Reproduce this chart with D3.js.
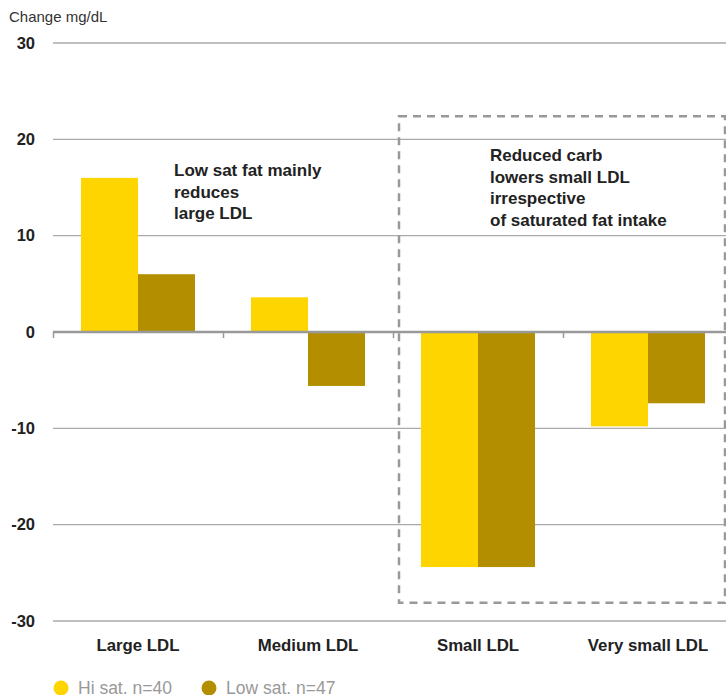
<!DOCTYPE html>
<html>
<head>
<meta charset="utf-8">
<script src="https://cdn.jsdelivr.net/npm/d3@7"></script>
<style>
  body { margin: 0; background: #fff; }
  svg { display: block; font-family: "Liberation Sans", Arial, sans-serif; }
</style>
</head>
<body>
<svg width="726" height="695"></svg>
<script>
var categories = ["Large LDL", "Medium LDL", "Small LDL", "Very small LDL"];
var seriesNames = ["Hi sat. n=40", "Low sat. n=47"];
var hiSat = [16.0, 3.6, -24.4, -9.8];
var lowSat = [6.0, -5.6, -24.4, -7.4];
var yTicks = [30, 20, 10, 0, -10, -20, -30];
var colors = ["#ffd500", "#b38f00"];

var svg = d3.select("svg");

var x = d3.scaleBand()
  .domain(categories)
  .range([53, 733]);

var xInner = d3.scaleBand()
  .domain(seriesNames)
  .range([28, 142]);

var y = d3.scaleLinear()
  .domain([-30, 30])
  .range([621, 43]);

// grid lines
svg.append("g")
  .selectAll("line")
  .data(yTicks.filter(function(d) { return d != 0; }))
  .enter().append("line")
    .attr("x1", 53)
    .attr("x2", 726)
    .attr("y1", function(d) { return y(d); })
    .attr("y2", function(d) { return y(d); })
    .attr("stroke", "#aaa")
    .attr("stroke-width", 1.3);

// y labels
svg.append("g")
  .selectAll("text")
  .data(yTicks)
  .enter().append("text")
    .attr("x", 35)
    .attr("y", function(d) { return y(d); })
    .attr("dy", "0.35em")
    .attr("text-anchor", "end")
    .attr("font-size", 16.5)
    .attr("font-weight", "bold")
    .attr("fill", "#222")
    .text(function(d) { return d; });

svg.append("text")
  .attr("x", 9)
  .attr("y", 22)
  .attr("font-size", 15)
  .attr("fill", "#333")
  .text("Change mg/dL");

// bars
var rows = categories.map(function(c, i) {
  return { cat: c, vals: [hiSat[i], lowSat[i]] };
});

var grp = svg.append("g")
  .selectAll("g")
  .data(rows)
  .enter().append("g")
    .attr("transform", function(d) { return "translate(" + x(d.cat) + ",0)"; });

grp.selectAll("rect")
  .data(function(d) { return d.vals.map(function(v, j) { return { name: seriesNames[j], v: v, j: j }; }); })
  .enter().append("rect")
    .attr("x", function(d) { return xInner(d.name); })
    .attr("width", xInner.bandwidth())
    .attr("y", function(d) { return y(Math.max(0, d.v)); })
    .attr("height", function(d) { return Math.abs(y(d.v) - y(0)); })
    .attr("fill", function(d) { return colors[d.j]; });

// zero axis with ticks
svg.append("line")
  .attr("x1", 53)
  .attr("x2", 726)
  .attr("y1", y(0))
  .attr("y2", y(0))
  .attr("stroke", "#999")
  .attr("stroke-width", 2.5);

svg.append("g")
  .selectAll("line")
  .data(categories)
  .enter().append("line")
    .attr("x1", function(d) { return x(d) + 0.5; })
    .attr("x2", function(d) { return x(d) + 0.5; })
    .attr("y1", y(0))
    .attr("y2", y(0) + 6)
    .attr("stroke", "#999")
    .attr("stroke-width", 1.5);

// category labels
svg.append("g")
  .selectAll("text")
  .data(categories)
  .enter().append("text")
    .attr("x", function(d) { return x(d) + 85; })
    .attr("y", 651)
    .attr("text-anchor", "middle")
    .attr("font-size", 16.8)
    .attr("font-weight", "bold")
    .attr("fill", "#222")
    .text(function(d) { return d; });

// dashed box
svg.append("rect")
  .attr("x", 399)
  .attr("y", y(22.4))
  .attr("width", 326)
  .attr("height", y(-28.1) - y(22.4))
  .attr("fill", "none")
  .attr("stroke", "#999")
  .attr("stroke-width", 2.5)
  .attr("stroke-dasharray", "8,6");

// annotations
var note1 = ["Low sat fat mainly", "reduces", "large LDL"];
var note2 = ["Reduced carb", "lowers small LDL", "irrespective", "of saturated fat intake"];

svg.append("text")
  .attr("x", 174)
  .attr("y", 176)
  .attr("font-size", 17)
  .attr("font-weight", "bold")
  .attr("fill", "#222")
  .selectAll("tspan")
  .data(note1)
  .enter().append("tspan")
    .attr("x", 174)
    .attr("dy", function(d, i) { return i == 0 ? 0 : 21.5; })
    .text(function(d) { return d; });

svg.append("text")
  .attr("x", 490)
  .attr("y", 161)
  .attr("font-size", 17)
  .attr("font-weight", "bold")
  .attr("fill", "#222")
  .selectAll("tspan")
  .data(note2)
  .enter().append("tspan")
    .attr("x", 490)
    .attr("dy", function(d, i) { return i == 0 ? 0 : 21.7; })
    .text(function(d) { return d; });

// legend
var legend = svg.append("g")
  .selectAll("g")
  .data(seriesNames)
  .enter().append("g")
    .attr("transform", function(d, i) { return "translate(" + (61 + i * 148) + ",688)"; });

legend.append("circle")
  .attr("r", 7.5)
  .attr("fill", function(d, i) { return colors[i]; });

legend.append("text")
  .attr("x", 17)
  .attr("dy", "0.35em")
  .attr("font-size", 17.5)
  .attr("fill", "#999")
  .text(function(d) { return d; });
</script>
</body>
</html>
